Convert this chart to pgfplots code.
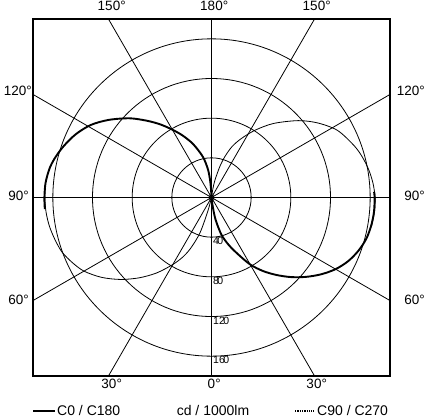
\documentclass[border=0pt]{standalone}
\usepackage{fontspec}
\setmainfont{Liberation Sans}
\usepackage{pgfplots}
\pgfplotsset{compat=1.18}
\usepackage{pgfplotstable}

% luminous intensity, gamma (deg from nadir) vs cd/1000lm
\pgfplotstableread{
g I
6 0
8 10
10.5 23
15 39
20 51
25 63
30 78
35 90.5
40 102
45 113.5
50 124.5
55 135
60 144.5
65 152
70 157.5
75 161.5
80 163.5
85 164.5
90 164.5
92 164
}\czero

\pgfplotstableread{
g I
86 168.5
90 168.5
95 168
100 166
104 163
109 158
115 151
121 142
127 130
134 115
140 101
145 90
150 79
155 69
161 57
168 42
173 28
176 14
180 0
}\conehundred

\pgfplotstableread{
g I
80 164
85 165
90 165
95 163.5
100 161
105 157.5
110 153
118 144
125 131
131.5 117
140 97.5
147 81
153 67
158 55.5
162 43
165 32
168.7 18
171 9
173 0
}\cninety

\pgfplotstableread{
g I
13 0
15 14
18 37
22 54
25.5 66
30 78
36 94
42 109
48 123.5
54 137
60 148.5
65 155
70 160.5
75 163.5
80 166
85 167.5
90 168
95 168
}\ctwoseventy

\begin{document}
\begin{tikzpicture}[x=1pt,y=1pt, grid line/.style={black, line width=0.8pt}]
\useasboundingbox (-33,-42) rectangle (392,376);
\begin{axis}[
  at={(0,0)}, anchor=south west,
  scale only axis, width=357pt, height=357pt,
  xmin=-180, xmax=180, ymin=-180, ymax=180,
  ticks=none,
  axis line style={line width=1.1pt},
]
% rings and their values
\pgfplotsinvokeforeach{40,80,120,160}{
  \draw[grid line] (axis cs:0,0) circle[radius=#1];
}
\draw[grid line] (axis cs:0,0) circle[radius=2.5];
\begin{scope}[every node/.style={anchor=north west, inner sep=0,
    font=\fontsize{10.5}{11}\selectfont}]
\node at (axis cs:1.5,-40) {4\kern-1.6pt0};
\node at (axis cs:1.5,-80) {8\kern-1.6pt0};
\node at (axis cs:1.5,-120) {12\kern-1.6pt0};
\node at (axis cs:1.5,-160) {16\kern-1.6pt0};
\end{scope}
% radial lines
\draw[grid line] (axis cs:0,-180) -- (axis cs:0,180);
\draw[grid line] (axis cs:-180,0) -- (axis cs:180,0);
\draw[grid line] (axis cs:-103.92,-180) -- (axis cs:103.92,180);
\draw[grid line] (axis cs:103.92,-180) -- (axis cs:-103.92,180);
\draw[grid line] (axis cs:-180,-103.92) -- (axis cs:180,103.92);
\draw[grid line] (axis cs:180,-103.92) -- (axis cs:-180,103.92);
% C90 / C270 (thin)
\addplot[black, line width=0.8pt, smooth]
  table[x expr={\thisrow{I}*sin(\thisrow{g})}, y expr={-\thisrow{I}*cos(\thisrow{g})}] {\cninety};
\addplot[black, line width=0.8pt, smooth]
  table[x expr={-\thisrow{I}*sin(\thisrow{g})}, y expr={-\thisrow{I}*cos(\thisrow{g})}] {\ctwoseventy};
% C0 / C180 (thick)
\addplot[black, line width=1.9pt, smooth]
  table[x expr={\thisrow{I}*sin(\thisrow{g})}, y expr={-\thisrow{I}*cos(\thisrow{g})}] {\czero};
\addplot[black, line width=1.9pt, smooth]
  table[x expr={-\thisrow{I}*sin(\thisrow{g})}, y expr={-\thisrow{I}*cos(\thisrow{g})}] {\conehundred};
\end{axis}

% angle labels
\begin{scope}[every node/.style={inner sep=0, font=\fontsize{13.5}{14}\selectfont}]
\node[anchor=base] at (76,365) {150\rlap{°}};
\node[anchor=base] at (178.5,365) {180\rlap{°}};
\node[anchor=base] at (281,365) {150\rlap{°}};
\node[anchor=base] at (76,-12) {30\rlap{°}};
\node[anchor=base] at (178.5,-12) {0\rlap{°}};
\node[anchor=base] at (281,-12) {30\rlap{°}};
\node[anchor=east] at (-1,285) {120°};
\node[anchor=east] at (-4,180) {90°};
\node[anchor=east] at (-4,76.5) {60°};
\node[anchor=east] at (392,285) {120°};
\node[anchor=east] at (392,180) {90°};
\node[anchor=east] at (392,76.5) {60°};
\end{scope}

% legend
\begin{scope}[every node/.style={inner sep=0, font=\fontsize{14}{15}\selectfont}]
\draw[line width=1.9pt] (0,-35) -- (22,-35);
\node[anchor=base west] at (24,-39.5) {C0 / C180};
\node[anchor=base] at (180,-39.5) {cd / 1000lm};
\draw[line width=1.4pt, dash pattern=on 1.3pt off 1pt] (262,-35) -- (281,-35);
\node[anchor=base west] at (284,-39.5) {C90 / C270};
\end{scope}
\end{tikzpicture}
\end{document}
